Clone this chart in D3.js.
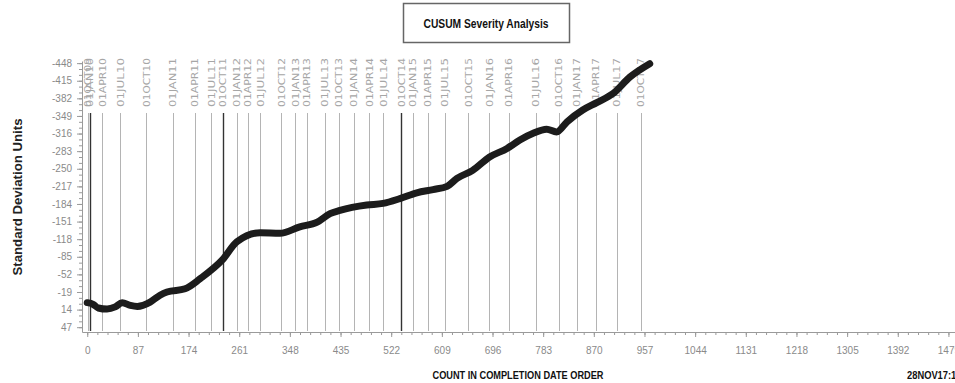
<!DOCTYPE html>
<html>
<head>
<meta charset="utf-8">
<script src="https://cdn.jsdelivr.net/npm/d3@7"></script>
<style>
	body { margin: 0; background: #fff; }
	svg { display: block; }
	.tick text { fill: #8a8a8a; font-family: "Liberation Sans", Arial, sans-serif; font-size: 10px; }
	.axis path, .axis line { stroke: #9a9a9a; }
	.bold { font-family: "Liberation Sans Narrow", "Liberation Sans", Arial, sans-serif; font-weight: bold; fill: #111; }
</style>
</head>
<body>
<svg id="chart" width="955" height="383"></svg>
<script>
//chart values
var countValues = [0, 10, 19, 34, 48, 60, 74, 86, 108, 125, 137, 168, 194, 232, 257, 297, 331, 365, 395, 417,
	434, 480, 508, 537, 566, 594, 618, 635, 662, 691, 721, 743, 765, 789, 806, 824, 851, 875, 903, 932, 966];
var cusumValues = [1, 4, 11, 13, 9, 1, 6, 8, 0, -13, -19, -25, -44, -79, -113, -130, -129, -141, -150, -166,
	-172, -182, -185, -194, -205, -211, -217, -232, -247, -272, -288, -304, -316, -324, -319, -338, -360, -374, -391, -422, -447];

//quarter reference lines
var refLabels = ["01OCT09", "01JAN10", "01APR10", "01JUL10", "01OCT10", "01JAN11", "01APR11", "01JUL11", "01OCT11",
	"01JAN12", "01APR12", "01JUL12", "01OCT12", "01JAN13", "01APR13", "01JUL13", "01OCT13", "01JAN14", "01APR14",
	"01JUL14", "01OCT14", "01JAN15", "01APR15", "01JUL15", "01OCT15", "01JAN16", "01APR16", "01JUL16", "01OCT16",
	"01JAN17", "01APR17", "01JUL17", "01OCT17"];
var refCounts = [1, 4, 26, 57, 101, 147, 185, 213, 233, 257, 276, 297, 333, 357, 377, 408, 432, 458, 484,
	508, 539, 559, 585, 614, 654, 690, 724, 770, 810, 841, 873, 909, 951];

//tick labels
var xTicks = [0, 87, 174, 261, 348, 435, 522, 609, 696, 783, 870, 957, 1044, 1131, 1218, 1305, 1392, 1479];
var yTicks = [-448, -415, -382, -349, -316, -283, -250, -217, -184, -151, -118, -85, -52, -19, 14, 47];

var svg = d3.select("#chart");

var x = d3.scaleLinear().domain([-9, 1492]).range([82, 956]);
var y = d3.scaleLinear().domain([-452, 56]).range([61, 332]);

//minor ticks first so the major ones sit on top
svg.append("g").attr("class", "axis")
	.attr("transform", "translate(0,332)")
	.call(d3.axisBottom(x).tickValues(d3.range(0, 1492, 17.4)).tickSize(3).tickFormat(""))
	.call(function(g) { g.select(".domain").remove(); });
svg.append("g").attr("class", "axis")
	.attr("transform", "translate(82,0)")
	.call(d3.axisLeft(y).tickValues(d3.range(-448, 56, 11)).tickSize(3).tickFormat(""))
	.call(function(g) { g.select(".domain").remove(); });

svg.append("g").attr("class", "axis")
	.attr("transform", "translate(0,332)")
	.call(d3.axisBottom(x).tickValues(xTicks).tickSize(5).tickSizeOuter(0).tickPadding(8)
		.tickFormat(function(d) { return String(d); }))
	.call(function(g) { g.selectAll(".tick text").attr("dy", "0.9em"); });

svg.append("g").attr("class", "axis")
	.attr("transform", "translate(82,0)")
	.call(d3.axisLeft(y).tickValues(yTicks).tickSize(5).tickSizeOuter(0).tickPadding(5)
		.tickFormat(function(d) { return String(d); }));

//reference lines with their rotated labels
var darkRefs = ["01JAN10", "01OCT11", "01OCT14"];
var refs = svg.append("g");
refs.selectAll("line").data(refCounts).enter().append("line")
	.attr("x1", function(d) { return Math.round(x(d)) + 0.5; })
	.attr("x2", function(d) { return Math.round(x(d)) + 0.5; })
	.attr("y1", 113).attr("y2", 331)
	.attr("stroke", function(d, i) { return darkRefs.indexOf(refLabels[i]) >= 0 ? "#333" : "#b4b4b4"; })
	.attr("stroke-width", function(d, i) { return darkRefs.indexOf(refLabels[i]) >= 0 ? 1.4 : 1; });
refs.selectAll("text").data(refCounts).enter().append("text")
	.attr("transform", function(d) { return "translate(" + (x(d) + 3.5) + ",107) rotate(-90)"; })
	.attr("font-family", "'DejaVu Sans', sans-serif")
	.attr("font-size", 9.5)
	.attr("fill", "#a6a6a6")
	.attr("textLength", function(d, i) { return refLabels[i].length * 7; })
	.attr("lengthAdjust", "spacingAndGlyphs")
	.text(function(d, i) { return refLabels[i]; });

//the cusum curve, drawn as a heavy marker trail
var pts = countValues.map(function(c, i) { return [c, cusumValues[i]]; });
var line = d3.line().x(function(d) { return x(d[0]); }).y(function(d) { return y(d[1]); }).curve(d3.curveMonotoneX);
svg.append("path")
	.datum(pts)
	.attr("d", line)
	.attr("fill", "none")
	.attr("stroke", "#1c1c1c")
	.attr("stroke-width", 7)
	.attr("stroke-linecap", "round")
	.attr("stroke-linejoin", "round");

//title box
svg.append("rect")
	.attr("x", 403.5).attr("y", 3.5).attr("width", 166).attr("height", 39)
	.attr("fill", "#fff").attr("stroke", "#666").attr("stroke-width", 1.5);
svg.append("text").attr("class", "bold")
	.attr("x", 486).attr("y", 28).attr("text-anchor", "middle")
	.attr("font-size", 12.5)
	.attr("textLength", 125).attr("lengthAdjust", "spacingAndGlyphs")
	.text("CUSUM Severity Analysis");

//axis titles
svg.append("text")
	.attr("transform", "translate(22,197) rotate(-90)")
	.attr("text-anchor", "middle")
	.attr("font-family", "'Liberation Sans', Arial, sans-serif")
	.attr("font-weight", "bold")
	.attr("font-size", 12.5)
	.attr("fill", "#222")
	.attr("textLength", 157).attr("lengthAdjust", "spacingAndGlyphs")
	.text("Standard Deviation Units");

svg.append("text").attr("class", "bold")
	.attr("x", 518).attr("y", 379).attr("text-anchor", "middle")
	.attr("font-size", 11.5)
	.attr("textLength", 171).attr("lengthAdjust", "spacingAndGlyphs")
	.text("COUNT IN COMPLETION DATE ORDER");

svg.append("text").attr("class", "bold")
	.attr("x", 907).attr("y", 379)
	.attr("font-size", 11.5)
	.attr("textLength", 54).attr("lengthAdjust", "spacingAndGlyphs")
	.text("28NOV17:11");
</script>
</body>
</html>
